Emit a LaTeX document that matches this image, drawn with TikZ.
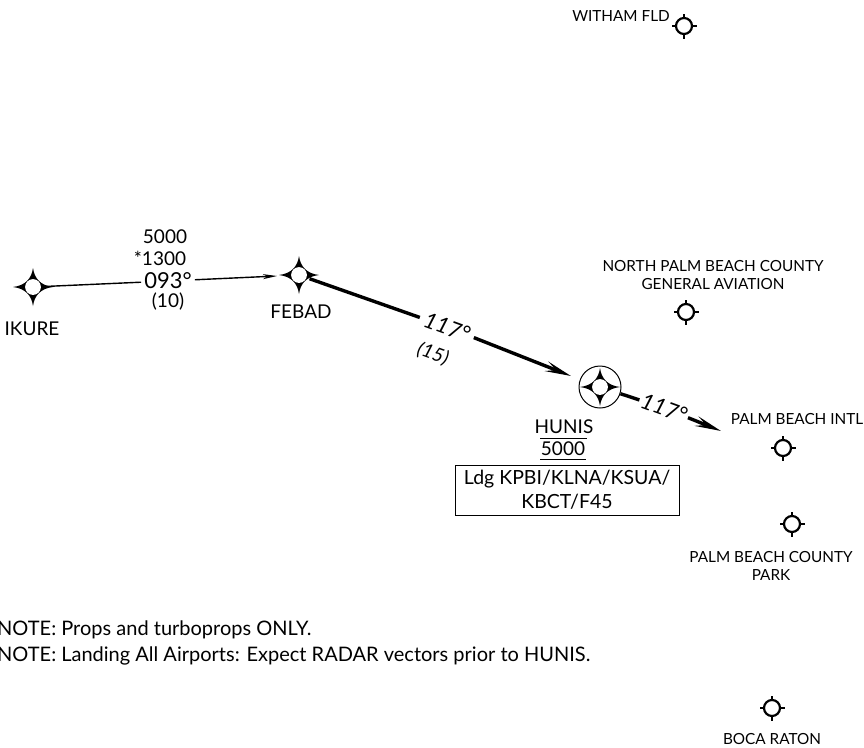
\documentclass[tikz,border=0pt]{standalone}
\usepackage{fontspec}
\setmainfont{Lato}
\usetikzlibrary{arrows.meta}
\tikzset{
	lbl/.style={inner sep=0pt,font=\fontsize{15.3}{17.5}\selectfont,align=center},
	mid/.style={inner sep=0pt,font=\fontsize{19}{21}\selectfont,align=center},
	big/.style={inner sep=5pt,font=\fontsize{22}{24}\selectfont,align=center},
	wpt/.style={circle,inner sep=0pt,minimum size=22pt},
	apt/.style={circle,inner sep=0pt,minimum size=16pt},
	leg/.style={line width=1.4pt},
	legthick/.style={line width=3.4pt},
	tip/.style={-{Stealth[length=14pt,width=5pt,inset=4pt]}},
	tipthick/.style={-{Stealth[length=26pt,width=10pt,inset=10pt]}},
	pics/star/.style={code={
		\fill (-20,0) .. controls (-8,-1.5) and (-1.5,-8) .. (0,-19)
			.. controls (1.5,-8) and (8,-1.5) .. (20,0)
			.. controls (8,1.5) and (1.5,8) .. (0,19)
			.. controls (-1.5,8) and (-8,1.5) .. (-20,0) -- cycle;
		\fill[white] (0,0) circle (7.9);
	}},
	pics/field/.style={code={
		\draw[line width=2.2pt,fill=white] (0,0) circle (8);
		\foreach \a in {0,90,180,270}
			\draw[line width=1.8pt] (\a:8) -- (\a:12.5);
	}}
}
\begin{document}
\begin{tikzpicture}[x=1pt,y=-1pt]
	\useasboundingbox (0,0) rectangle (864,747);
	% fixes
	\node[wpt] (ikure) at (33,287) {};
	\node[wpt] (febad) at (299,275) {};
	\node[circle,draw,line width=1pt,inner sep=0pt,minimum size=42pt] (hunis) at (600,387) {};
	\coordinate (palmtip) at (721,431);
	% first leg
	\node[big,inner sep=3pt] (crsa) at (168,281) {093°};
	\node[mid] (alta) at (165,237) {5000};
	\node[mid] (altb) at (160,258) {*1300};
	\node[mid] (dista) at (168,302) {(10)};
	\draw[leg] (ikure) -- (crsa);
	\draw[leg,tip] (crsa) -- (277,276);
	% second leg
	\node[big,rotate=-20] (crsb) at (447,327) {\textit{117°}};
	\node[mid,rotate=-20] (distb) at (433,354) {\textit{(15)}};
	\draw[legthick] (febad) -- (crsb);
	\draw[legthick,tipthick] (crsb) -- (571,376);
	% outbound
	\node[big,rotate=-20,inner sep=2pt] (crsc) at (664,408) {\textit{117°}};
	\draw[legthick] (hunis) -- (crsc);
	\draw[legthick,tipthick] (crsc) -- (palmtip);
	\pic at (ikure) {star};
	\pic at (febad) {star};
	\pic at (hunis) {star};
	\node[mid] (ikurelbl) at (32,329) {IKURE};
	\node[mid] (febadlbl) at (301,312) {FEBAD};
	\node[mid] (hunislbl) at (564,427) {HUNIS};
	\node[mid] (hunisalt) at (563,449) {5000};
	\draw[line width=1pt] (540,438) -- (587,438);
	\draw[line width=1pt] (540,459) -- (586,459);
	\node[draw,line width=0.9pt,minimum width=224pt,minimum height=50pt,inner sep=0pt,align=center,font=\fontsize{19.5}{24}\selectfont] (ldg) at (567,490) {Ldg KPBI/KLNA/KSUA/\\KBCT/F45};
	% airports
	\node[apt] (witham) at (684,26) {};
	\node[apt] (npbc) at (686,312) {};
	\node[apt] (pbi) at (783,448) {};
	\node[apt] (park) at (792,524) {};
	\node[apt] (boca) at (772,708) {};
	\foreach \f in {witham,npbc,pbi,park,boca}
		\pic at (\f) {field};
	\node[lbl] (withamlbl) at (621,16) {WITHAM FLD};
	\node[lbl] (npbclbl) at (713,275) {NORTH PALM BEACH COUNTY\\GENERAL AVIATION};
	\node[lbl] (pbilbl) at (797,419) {PALM BEACH INTL};
	\node[lbl] (parklbl) at (771,566) {PALM BEACH COUNTY\\PARK};
	\node[lbl] (bocalbl) at (772,739) {BOCA RATON};
	% notes
	\node[mid,font=\fontsize{20}{22}\selectfont,anchor=west] (note) at (-3,630) {NOTE: Props and turboprops ONLY.};
	\node[mid,font=\fontsize{20}{22}\selectfont,anchor=west] (noteb) at (-3,656) {NOTE: Landing All Airports: Expect RADAR vectors prior to HUNIS.};
\end{tikzpicture}
\end{document}
